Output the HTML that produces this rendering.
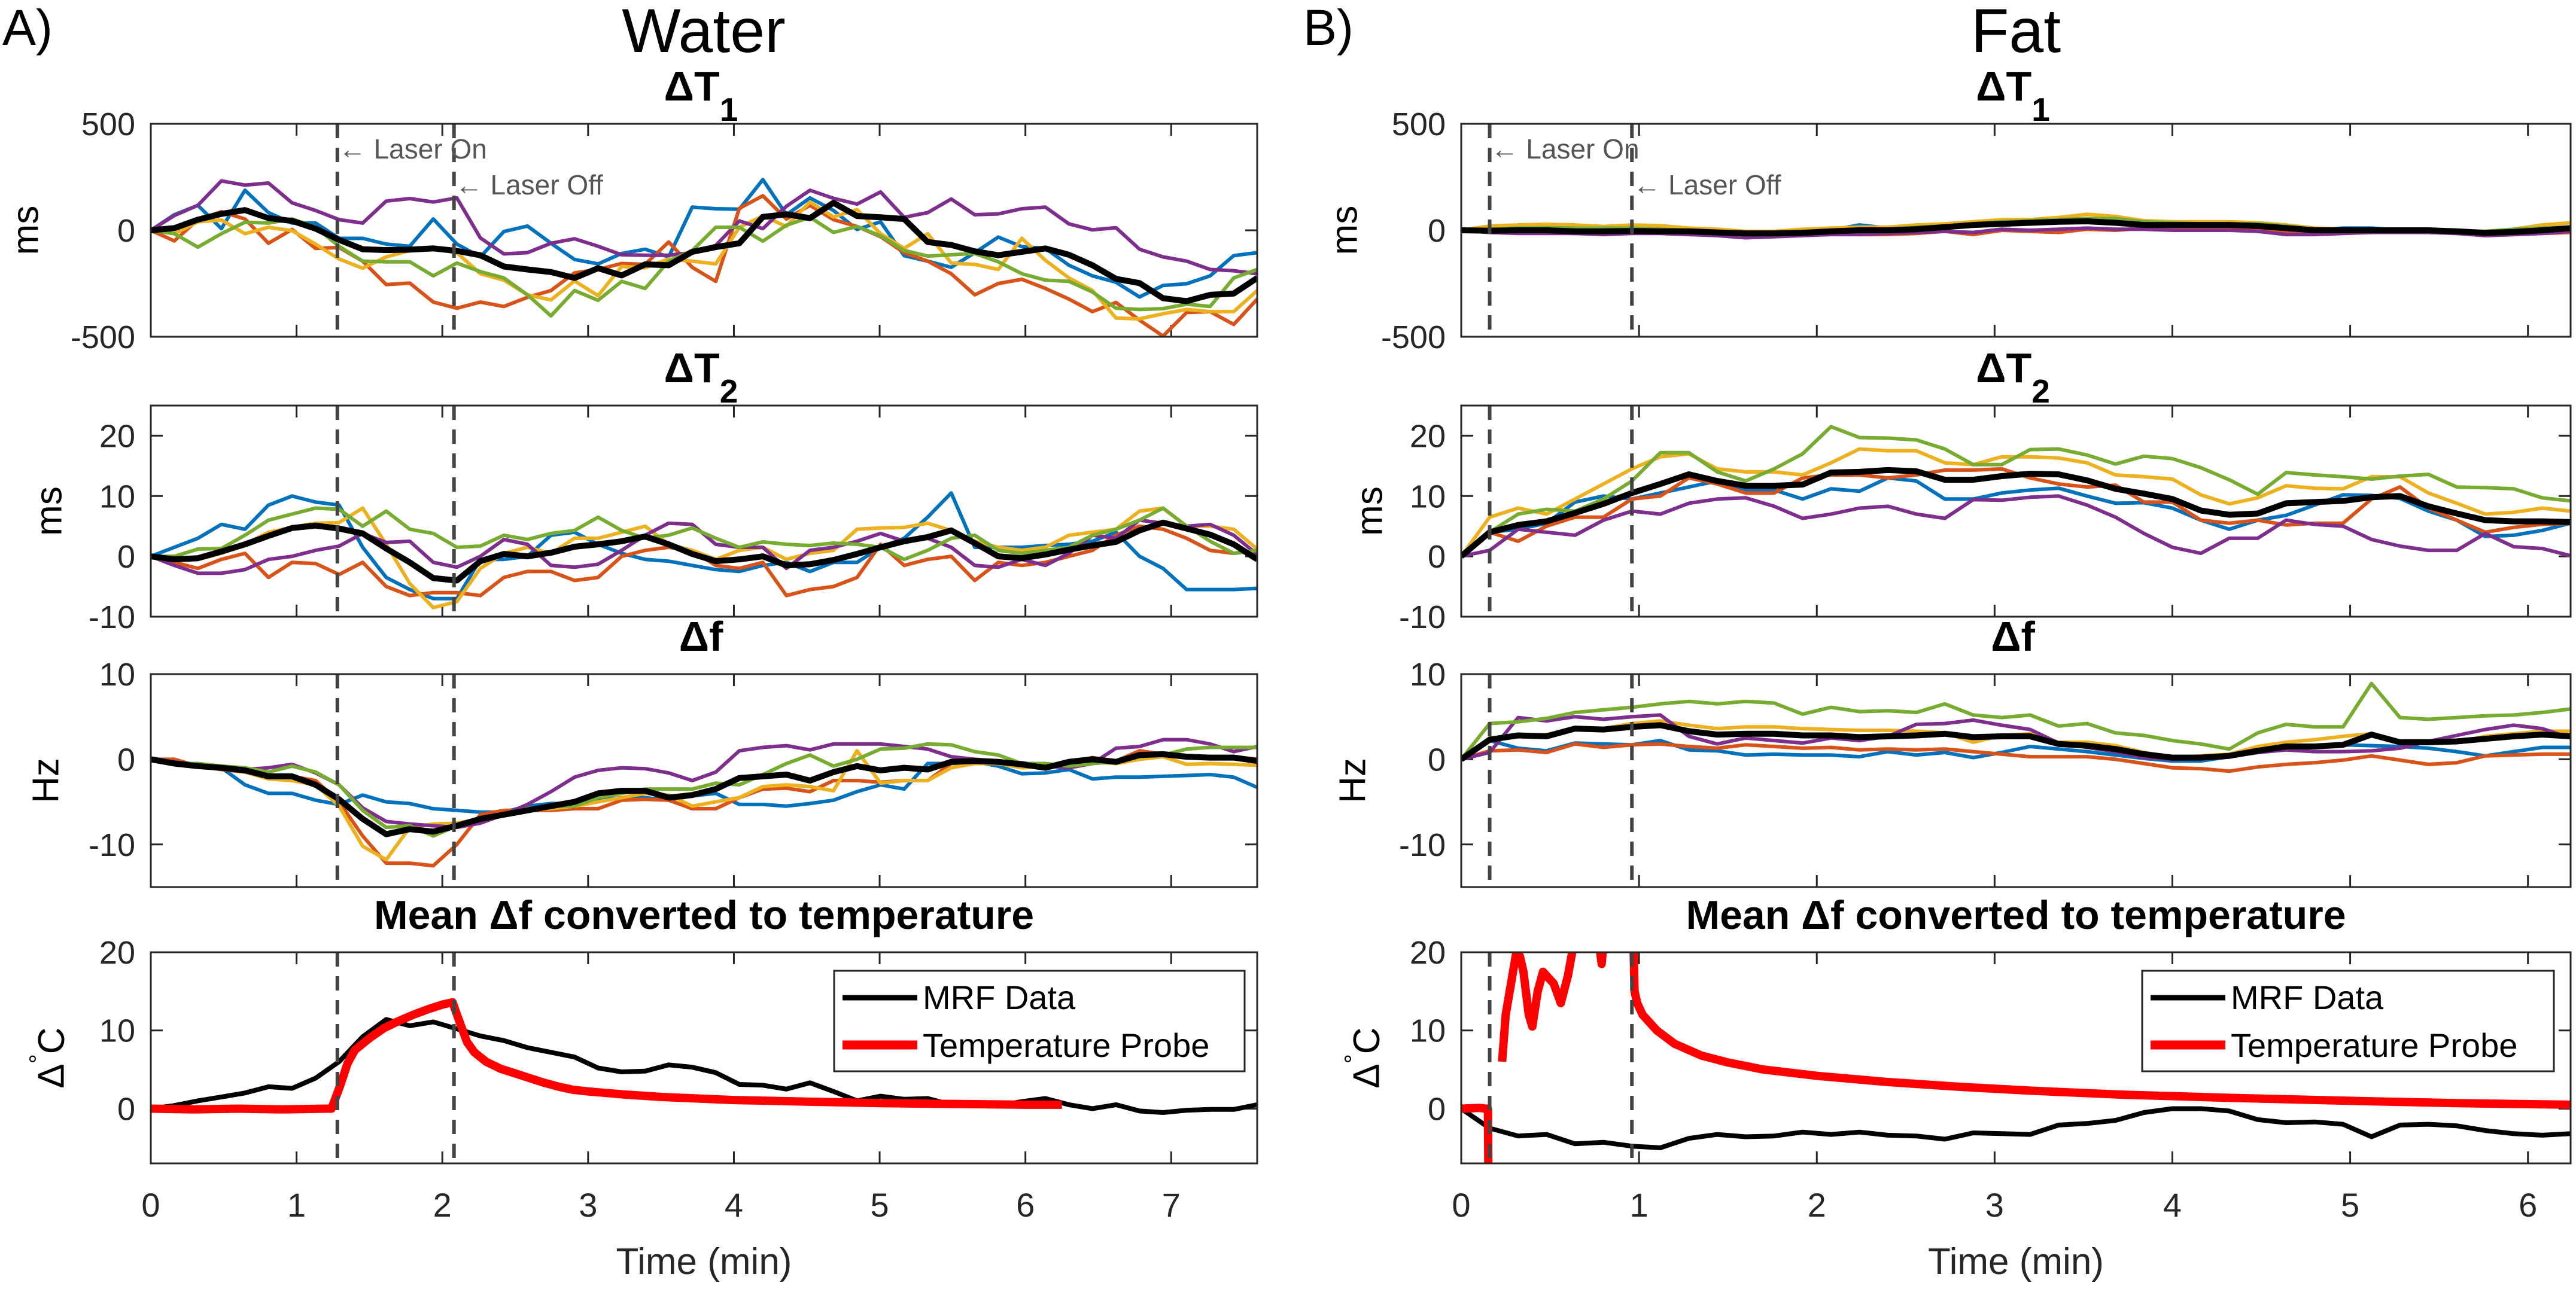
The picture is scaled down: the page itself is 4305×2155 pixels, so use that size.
<!DOCTYPE html>
<html><head><meta charset="utf-8">
<style>
html,body{margin:0;padding:0;background:#fff;}
svg{display:block;font-family:"Liberation Sans",Arial,sans-serif;}
</style></head>
<body>
<svg id="fig" width="4305" height="2155" viewBox="0 0 4305 2155" xmlns="http://www.w3.org/2000/svg">
<rect x="0" y="0" width="4305" height="2155" fill="#fff"/>
<text x="4" y="75" font-size="84">A)</text>
<text x="2178" y="75" font-size="84">B)</text>
<text x="1176" y="87" font-size="104" text-anchor="middle">Water</text>
<text x="3369" y="87" font-size="104" text-anchor="middle">Fat</text>
<g id="layer"></g>
</svg>
<script>
// ---------- DATA ----------
const seriesColors = ["#0072BD","#D95319","#EDB120","#7E2F8E","#77AC30"];
const seriesNames = ["blue","orange","yellow","purple","green"];
const dtWater = 0.1615;
const dtFat = 0.16;
const laserWater = [1.28, 2.08];
const laserFat = [0.16, 0.96];

// Water dT1 (ms)
const wT1Blue = [0,73,117,8,188,83,34,34,-38,-38,-65,-75,53,-65,-125,-6,20,-61,-137,-158,-109,-89,-125,109,101,99,238,73,152,93,4,40,-119,-145,-174,-105,-32,-77,-85,-164,-214,-244,-313,-259,-251,-214,-119,-105];
const wT1Orange = [0,-50,50,87,53,-61,4,-85,-81,-145,-255,-248,-337,-366,-337,-358,-315,-283,-200,-184,-156,-160,-55,-174,-240,103,162,53,117,50,18,-30,-105,-145,-204,-303,-250,-230,-273,-323,-382,-339,-422,-497,-386,-382,-442,-323];
const wT1Yellow = [0,-16,40,48,-16,14,-2,-65,-135,-178,-125,-95,-85,-105,-204,-234,-303,-327,-238,-307,-170,-176,-135,-145,-158,14,67,18,133,63,97,-16,-85,-16,-154,-160,-184,-38,-141,-224,-283,-412,-416,-392,-372,-382,-382,-283];
const wT1Purple = [0,69,117,232,212,222,129,93,50,34,137,149,133,152,-36,-111,-105,-61,-40,-75,-115,-117,-117,-105,-71,44,8,113,188,150,123,180,61,83,147,73,77,101,109,30,2,12,-89,-125,-145,-184,-190,-204];
const wT1Green = [0,-16,-79,-16,38,34,53,14,-75,-145,-148,-148,-214,-154,-194,-224,-303,-402,-283,-329,-240,-273,-145,-95,14,14,-51,24,61,-10,18,-26,-95,-121,-115,-109,-148,-204,-234,-240,-290,-366,-372,-368,-347,-358,-224,-184];
const wT1Mean = [0,10,50,77,95,57,44,8,-45,-89,-93,-91,-85,-97,-117,-170,-184,-196,-224,-178,-212,-160,-164,-101,-79,-61,63,75,57,129,67,61,53,-55,-69,-99,-117,-101,-85,-115,-164,-228,-248,-319,-333,-303,-297,-224];
// Water dT2 (ms)
const wT2Blue = [0,1.5,3,5.3,4.5,8.5,10,9,8.5,1.5,-3.5,-5.5,-7,-7,-0.5,-0.5,0,3.5,4,2,0.5,-0.5,-0.8,-1.5,-2.2,-2.5,-1.5,-1,-2.5,-1,-1,1.5,3,6.5,10.5,1.5,1.5,1.5,1.8,2,2.5,4,0,-2,-5.5,-5.5,-5.5,-5.3];
const wT2Orange = [0,-1,-2,-0.5,0.5,-3.5,-1,-1.2,-3,-1,-5,-6.5,-6,-6,-6.5,-3.5,-2.5,-2.5,-4,-3.5,0,1,1.5,1,-1.5,-2,-1,-6.5,-5.5,-5,-3.5,2,-1.5,-0.5,0,-4,-1,-1.5,-1,0,1,3.5,5,4.5,3,1,0.5,1];
const wT2Yellow = [0,-0.5,-0.5,0.5,2,4,4.8,5.5,5.6,8,2,-4.5,-8.5,-7.5,-2,0.5,1.5,0.5,3,3,4,5,2,1,-0.5,1,1.5,-0.5,0.5,1,4.5,4.7,4.8,5.5,4.3,2.5,1.5,1,1.5,3.5,4,4.5,7.5,8,5,5,4.5,1.2];
const wT2Purple = [0,-1.5,-2.8,-2.8,-2.2,-0.5,0,1,1.7,3.8,2.3,2.5,-1,-1.8,0,2.8,2,-1.5,-1.8,-1.3,1,3.5,5.5,5.3,2,1.5,1.5,-2,1,1.5,2.5,3.8,2.5,3,1.5,-1.5,-1.8,-0.5,-1.5,0.5,3.5,3,6,5.5,5,5.3,3.5,0.3];
const wT2Green = [0,0,1.2,1.3,3.5,6,7,8,7.8,5,7.5,4.5,3.8,1.5,1.7,3.5,2.8,3.8,4.3,6.5,4.3,3,3.5,4.7,3,1.5,2.4,2,1.8,2.2,2,1.5,-0.5,1,3,3.5,1,0.5,1,1.5,3.5,4.5,6,8,5,2.5,0.5,1];
const wT2Mean = [0,-0.5,-0.3,0.8,2,3.4,4.7,5.1,4.6,3.8,1.3,-1,-3.6,-4,-0.8,0.4,0,0.6,1.6,2,2.5,3.3,2,0.4,-0.8,-0.5,0,-1.5,-1.3,-0.6,0.4,1.5,2.5,3.2,4.3,2.2,0,-0.3,0.3,1.1,1.8,2.4,4.3,5.6,4.6,3.6,2,-0.5];
// Water df (Hz)
const wDfBlue = [0,-0.5,-0.8,-1,-3,-4,-4,-4.8,-5.3,-4.2,-5,-5.2,-5.8,-6,-6.2,-6.2,-5.5,-5.2,-5.2,-4.8,-4.5,-4.5,-4.8,-4.3,-4,-5.3,-5.3,-5.5,-5.2,-4.8,-3.8,-3,-3.5,-0.5,-0.5,-0.3,-0.8,-1.7,-1.6,-1.2,-2.3,-2.1,-2.1,-2,-1.9,-1.8,-2.1,-3.3];
const wDfOrange = [0,0,-0.8,-1.2,-1.5,-2,-2,-2.5,-5,-9,-12.2,-12.2,-12.5,-10,-6.5,-6,-6,-6,-5.8,-5.8,-4.8,-4.7,-4.8,-5.8,-5.8,-4.5,-3.5,-3.4,-3.8,-2.5,-2.5,-2.7,-2.5,-2.5,-0.5,-0.2,-0.3,-0.5,-0.8,-0.4,0.2,-0.2,1,0.6,0.2,0.3,0.3,0];
const wDfYellow = [0,-0.3,-0.6,-1,-1.5,-2.3,-2.5,-3,-5.5,-10.2,-11.8,-8,-7.6,-7.5,-7,-6.5,-6,-5.8,-5.5,-5,-4.5,-4,-4.2,-5.5,-5,-4.5,-3.2,-3,-3.2,-3.7,1,-2.8,-2.5,-2.5,-1,-0.5,-0.5,-1,-0.8,-0.5,-0.3,-0.5,0,0.3,-0.6,-0.5,-0.6,-0.7];
const wDfPurple = [0,-0.3,-0.6,-0.9,-1.2,-1,-0.6,-1.6,-3,-5.7,-7.3,-7.6,-7.8,-8,-7.5,-6.5,-5.3,-3.8,-2.1,-1.3,-1,-1.1,-1.6,-2.5,-1.5,1,1.4,1.6,1.1,1.8,1.8,1.8,1.5,1.2,0.3,0,-0.2,-0.4,-0.8,-1,-0.5,1.3,1.5,2.3,2.3,1.8,0.9,1.5];
const wDfGreen = [0,-0.5,-0.5,-0.8,-1,-1.5,-0.8,-1.5,-3,-6,-8,-7.8,-9,-7.8,-7,-6.5,-5.8,-5.5,-5.5,-4.5,-4,-3.5,-3.5,-3.5,-2.8,-3,-1.8,-0.5,0.5,-0.8,0,1.2,1.3,1.8,1.7,0.9,0.5,-0.5,-0.5,-0.8,-0.5,-0.3,0.3,0.5,1.2,1.4,1.4,1.4];
const wDfMean = [0,-0.5,-0.8,-1,-1.3,-2,-2,-3,-4.7,-7,-8.8,-8.2,-8.5,-7.8,-7,-6.5,-6,-5.5,-5,-4,-3.7,-3.7,-4.5,-4.2,-3.5,-2.2,-2,-1.8,-2.5,-1.5,-0.8,-1.3,-1,-1.2,-0.3,-0.2,-0.3,-0.6,-1,-0.3,0,-0.3,0.5,0.6,0.3,0.2,0.2,-0.2];
// Water temperature (deg C)
const wMRF = [0,0.4,1,1.5,2,2.8,2.6,3.9,6,9.2,11.4,10.6,11.1,10.2,9.3,8.7,7.8,7.2,6.6,5.2,4.7,4.8,5.6,5.3,4.6,3.1,3,2.5,3.3,2.2,1,1.6,1.2,1.3,0.5,0.5,0.4,0.9,1.3,0.5,0,0.5,-0.3,-0.5,-0.2,-0.1,-0.1,0.5];
const wProbeT = [0,0.3,0.6,0.9,1.2,1.24,1.3,1.35,1.4,1.5,1.6,1.7,1.8,1.9,2.0,2.07,2.12,2.17,2.22,2.3,2.4,2.5,2.6,2.7,2.8,2.9,3.0,3.25,3.5,3.75,4.0,4.5,5.0,5.5,6.0,6.25];
const wProbeV = [0,-0.1,0,-0.1,0,0,3,5.8,7.5,9,10.3,11.2,12,12.7,13.3,13.6,11,8.5,7.2,6,5.1,4.5,3.9,3.3,2.8,2.4,2.2,1.8,1.5,1.3,1.1,0.9,0.7,0.6,0.5,0.5];

// Fat dT1 (ms)
const fT1Blue = [0,-5,-5,-5,10,5,10,5,0,-5,-10,-10,-5,0,25,10,10,15,20,30,40,40,40,35,30,30,30,25,25,10,0,10,10,0,0,-5,-10,0,5,15];
const fT1Orange = [0,-10,-10,-10,-15,-10,-10,-10,-15,-20,-25,-25,-20,-15,-20,-20,-15,-5,-20,0,-5,-10,5,0,10,15,15,10,5,-5,-5,-10,-10,-5,-10,-15,-25,-20,-15,-10];
const fT1Yellow = [0,20,25,28,25,18,25,22,10,5,-5,-5,5,10,15,15,25,30,40,50,50,60,75,65,45,40,40,40,35,25,10,5,5,5,5,-5,-10,5,25,35];
const fT1Purple = [0,-10,-15,-15,-15,-20,-15,-15,-20,-25,-35,-30,-25,-20,-20,-15,-10,-5,-10,5,0,5,10,5,5,0,0,0,-5,-20,-20,-15,-10,-10,-10,-15,-25,-20,-15,-5];
const fT1Green = [0,5,10,12,10,10,10,5,0,-5,-10,-10,-5,0,5,5,15,20,30,40,45,50,55,55,40,35,30,30,30,20,5,5,5,5,0,-5,-5,5,10,15];
const fT1Mean = [0,-2,0,0,-5,-5,-3,-5,-5,-10,-15,-15,-12,-5,0,0,5,15,25,30,35,40,42,35,25,25,25,25,20,10,0,0,0,0,0,-5,-12,-8,0,10];
// Fat dT2 (ms)
const fT2Blue = [0,4,4.5,5.5,9,10,9.5,10.5,11.5,12.5,11,11,9.5,11.2,10.8,13,12.5,9.5,9.5,10.5,11,11.3,10,8.8,8.9,8,6,4.5,6,6.8,8.5,10.2,10.1,9.6,7.5,6,3.3,3.5,4.3,5.5];
const fT2Orange = [0,4,2.5,5,6.5,6.5,9.5,10,13,12,10.5,10.5,13,13.5,13.5,13,13.5,14.3,14.3,14.5,13,12,11.5,11.8,9,9,6,5.5,6,5.2,5.5,5.5,9.5,11.5,8,6,4,4.8,5.3,5.5];
const fT2Yellow = [0,6.5,8,7,9.5,12,14.5,16.5,17,14.5,14,14,13.5,15.5,17.8,17.5,17.5,15.5,15.2,16.5,16.5,16.3,15.5,13.5,13.2,12.8,10.2,8.7,9.7,11.7,11.3,11.2,13.2,13.2,10.5,8.8,7,7.3,8,7.5];
const fT2Purple = [0,1,4.5,4,3.5,6,7.5,7,8.8,9.5,9.7,8.3,6.3,7,8,8.3,7,6.3,9.4,9.3,9.8,10,8.5,6.5,3.8,1.5,0.5,3,3,6,5.3,5,2.8,1.7,1,1,3.8,1.6,1.3,0.1];
const fT2Green = [0,4,7,7.8,7.5,9.5,12.5,17.2,17.2,14,12.5,14.5,17,21.5,19.7,19.6,19.3,17.8,15.2,15.2,17.7,17.8,16.8,15.3,16.6,16.2,14.7,12.7,10.3,13.9,13.5,13.2,12.8,13.3,13.6,11.5,11.4,11.2,9.7,9.2];
const fT2Mean = [0,4,5.2,5.8,7.2,8.7,10.5,12,13.6,12.5,11.7,11.7,11.9,13.9,14,14.3,14.1,12.7,12.7,13.3,13.7,13.6,12.6,11.2,10.4,9.5,7.6,6.9,7.1,8.8,9,9.2,9.8,10,8.3,7.1,6,5.8,5.8,5.7];
// Fat df (Hz)
const fDfBlue = [0,2.2,1.3,1,1.9,1.8,1.7,2.2,1.1,1,0.5,0.6,0.5,0.5,0.3,0.9,0.5,0.8,0.2,0.8,1.5,1.2,0.9,0.5,0.1,-0.2,-0.2,0.3,0.8,1.2,1.6,1.7,1.6,1.5,1.3,0.9,0.4,0.9,1.4,1.4];
const fDfOrange = [0,1,1.1,0.8,1.8,1.4,1.7,1.8,1.5,1.3,1.7,1.5,1.3,1.4,1.1,1.2,1.1,1.2,0.9,0.6,0.3,0.3,0.3,0,-0.5,-1,-1.1,-1.4,-0.9,-0.6,-0.4,-0.1,0.4,-0.1,-0.6,-0.4,0.4,0.5,0.6,0.6];
const fDfYellow = [0,2.5,2.7,2.9,3.5,3.6,4.2,4.5,4,3.6,3.8,3.8,3.6,3.5,3.4,3.4,3.3,3.1,2,2.8,3,2,2,1.6,0.8,0.2,0.4,0.6,1.5,2,2.3,2.7,3,2,2.1,2,2.7,3,3.3,3.3];
const fDfPurple = [0,0.8,4.9,4.5,5,4.7,5,5.2,2.7,1.8,2.5,2.2,1.9,2.5,2.2,2.7,4.1,4.2,4.6,4,3.5,1.9,1.4,0.9,0.2,0,0.1,0.3,0.8,1.1,0.9,0.9,1,1.3,2.1,2.8,3.5,4,3.6,2.5];
const fDfGreen = [0,4.2,4.4,4.8,5.5,5.8,6.1,6.5,6.8,6.5,6.8,6.6,5.3,6.1,5.6,5.7,5.5,6.5,5.2,4.9,5.2,3.9,4.2,3.1,2.8,2.2,1.8,1.2,3.1,4.1,3.8,3.8,8.9,4.9,4.7,4.9,5.1,5.2,5.5,5.9];
const fDfMean = [0,2.3,2.8,2.7,3.6,3.5,3.8,4,3.3,2.9,3,3,2.8,2.8,2.6,2.7,2.8,3,2.6,2.7,2.7,1.8,1.6,1.2,0.6,0.2,0.2,0.4,1,1.5,1.5,1.7,2.9,2,2,2.1,2.4,2.7,2.9,2.7];
// Fat temperature (deg C)
const fMRF = [0,-2.5,-3.5,-3.3,-4.5,-4.3,-4.8,-5,-3.8,-3.3,-3.6,-3.5,-3,-3.3,-3,-3.4,-3.5,-3.9,-3.1,-3.2,-3.3,-2.1,-1.9,-1.5,-0.5,0,0,-0.3,-1.4,-1.8,-1.7,-2,-3.6,-2.1,-2,-2.2,-2.8,-3.2,-3.4,-3.2];
const fProbeT = [0,0.1,0.14,0.15,0.16,0.2,0.23,0.25,0.28,0.31,0.33,0.35,0.38,0.40,0.43,0.46,0.48,0.52,0.56,0.60,0.64,0.68,0.72,0.76,0.79,0.81,0.85,0.92,0.96,0.975,0.99,1.02,1.1,1.2,1.35,1.5,1.7,2.0,2.4,2.8,3.2,3.7,4.3,5.0,5.6,6.24];
const fProbeV = [0,0.1,0,0,-30,null,6,12,16,20,19.5,17.5,12,10.5,15,17.5,17,16,13.5,17,22,30,28,24,18.5,24,30,30,30,15,13.5,12,10,8.3,6.8,5.9,5,4.2,3.4,2.8,2.3,1.8,1.4,1.0,0.7,0.5];

const tickW = [0,1,2,3,4,5,6,7];
const tickF = [0,1,2,3,4,5,6];

// ---------- LAYOUT ----------
const NS = "http://www.w3.org/2000/svg";
const layer = document.getElementById("layer");
const tops = [207,678,1127,1592], bots = [563,1031,1483,1945];
const yRanges = [[-500,500],[-10,25],[-15,10],[-7,20]];
const yTicks = [[-500,0,500],[-10,0,10,20],[-10,0,10],[0,10,20]];
const sides = [
  {key:"water", x0:252, x1:2101, xmax:7.59, dt:dtWater, laser:laserWater, xt:tickW,
   series:[[wT1Blue,wT1Orange,wT1Yellow,wT1Purple,wT1Green,wT1Mean],[wT2Blue,wT2Orange,wT2Yellow,wT2Purple,wT2Green,wT2Mean],[wDfBlue,wDfOrange,wDfYellow,wDfPurple,wDfGreen,wDfMean]],
   mrf:wMRF, pT:wProbeT, pV:wProbeV, ylabX:[43,82,77,86], legX:1394, legW:686, annY:[249,309]},
  {key:"fat", x0:2442, x1:4296, xmax:6.24, dt:dtFat, laser:laserFat, xt:tickF,
   series:[[fT1Blue,fT1Orange,fT1Yellow,fT1Purple,fT1Green,fT1Mean],[fT2Blue,fT2Orange,fT2Yellow,fT2Purple,fT2Green,fT2Mean],[fDfBlue,fDfOrange,fDfYellow,fDfPurple,fDfGreen,fDfMean]],
   mrf:fMRF, pT:fProbeT, pV:fProbeV, ylabX:[2247,2289,2261,2284], legX:3580, legW:688, annY:[249,309]}
];
const subtitles = ["T1","T2","f","mean"];
const ylabels = ["ms","ms","Hz","C"];

function mk(tag, attrs, parent){
  const e = document.createElementNS(NS, tag);
  for (const k in attrs) e.setAttribute(k, attrs[k]);
  (parent||layer).appendChild(e);
  return e;
}
function polyPath(xs, ys, sx, sy){
  let d = "", pen = false;
  for (let i=0;i<ys.length;i++){
    if (ys[i]===null){ pen=false; continue; }
    d += (pen?"L":"M") + sx(xs[i]).toFixed(1) + "," + sy(ys[i]).toFixed(1);
    pen = true;
  }
  return d;
}

sides.forEach((S, si) => {
  const sx = v => S.x0 + (v/S.xmax)*(S.x1-S.x0);
  const cx = (S.x0+S.x1)/2;
  for (let p=0;p<4;p++){
    const top=tops[p], bot=bots[p], [ymin,ymax]=yRanges[p];
    const sy = v => bot - (v-ymin)/(ymax-ymin)*(bot-top);
    const g = mk("g",{});
    
    
    const clipId = "clip-"+S.key+"-"+p;
    const cp = mk("clipPath",{id:clipId}, g);
    mk("rect",{x:S.x0,y:top,width:S.x1-S.x0,height:bot-top}, cp);
    // title
    let tt;
    if (p<3){
      tt = mk("text",{x:cx-5,y:top-39,"font-size":70,"font-weight":"bold","text-anchor":"middle"}, g);
      if (p<2){
        tt.textContent = "\u0394T";
        const sub = mk("tspan",{"font-size":55,dy:34}, tt);
        sub.textContent = p===0 ? "1" : "2";
      } else tt.textContent = "\u0394f";
    } else {
      tt = mk("text",{x:cx,y:top-39,"font-size":68,"font-weight":"bold","text-anchor":"middle"}, g);
      tt.textContent = "Mean \u0394f converted to temperature";
    }
    
    
    // y label
    const ly = (top+bot)/2;
    const yl = mk("text",{x:S.ylabX[p],y:ly,"font-size":62,"text-anchor":"middle","dominant-baseline":"central",transform:"rotate(-90 "+S.ylabX[p]+" "+ly+")"}, g);
    if (p===3){ yl.textContent="\u0394"; const d=mk("tspan",{dy:-22,"font-size":40},yl); d.textContent="\u00B0"; const c=mk("tspan",{dy:22},yl); c.textContent="C"; }
    else yl.textContent = ylabels[p];
    
    
    // y ticks
    yTicks[p].forEach(v => {
      const y = sy(v);
      mk("line",{x1:S.x0,y1:y,x2:S.x0+20,y2:y,stroke:"#262626","stroke-width":3}, g);
      mk("line",{x1:S.x1,y1:y,x2:S.x1-20,y2:y,stroke:"#262626","stroke-width":3}, g);
      const t = mk("text",{x:S.x0-26,y:y+19,"font-size":54,"text-anchor":"end",fill:"#262626"}, g);
      t.textContent = String(v);
      
      
    });
    // x ticks
    S.xt.forEach(v => {
      const x = sx(v);
      mk("line",{x1:x,y1:bot,x2:x,y2:bot-20,stroke:"#262626","stroke-width":3}, g);
      mk("line",{x1:x,y1:top,x2:x,y2:top+20,stroke:"#262626","stroke-width":3}, g);
      if (p===3){
        const t = mk("text",{x:x,y:2034,"font-size":56,"text-anchor":"middle",fill:"#262626"}, g);
        t.textContent = String(v);
        
        
      }
    });
    const pg = mk("g",{"clip-path":"url(#"+clipId+")"}, g);
    // series
    if (p<3){
      const ser = S.series[p];
      for (let k=0;k<5;k++){
        const ys = ser[k], xs = ys.map((_,i)=>i*S.dt);
        const path = mk("path",{d:polyPath(xs,ys,sx,sy),fill:"none",stroke:seriesColors[k],"stroke-width":6,"stroke-linejoin":"round"}, pg);
        
        
      }
      const ys = ser[5], xs = ys.map((_,i)=>i*S.dt);
      const path = mk("path",{d:polyPath(xs,ys,sx,sy),fill:"none",stroke:"#000","stroke-width":10,"stroke-linejoin":"round"}, pg);
      
      
    } else {
      const xs = S.mrf.map((_,i)=>i*S.dt);
      const m = mk("path",{d:polyPath(xs,S.mrf,sx,sy),fill:"none",stroke:"#000","stroke-width":8,"stroke-linejoin":"round"}, pg);
      
      
      const r = mk("path",{d:polyPath(S.pT,S.pV,sx,sy),fill:"none",stroke:"#ff0000","stroke-width":14,"stroke-linejoin":"round"}, pg);
      
      
    }
    // laser lines
    S.laser.forEach((lt,li) => {
      const ln = mk("line",{x1:sx(lt),y1:top,x2:sx(lt),y2:bot,stroke:"#444","stroke-width":6,"stroke-dasharray":"24 16"}, g);
      
      
    });
    // box
    mk("rect",{x:S.x0,y:top,width:S.x1-S.x0,height:bot-top,fill:"none",stroke:"#262626","stroke-width":3}, g);
    if (p===0){
      ["\u2190 Laser On","\u2190 Laser Off"].forEach((txt,li) => {
        const a = mk("text",{x:sx(S.laser[li])+2,y:S.annY[li]+16,"font-size":46,fill:"#555"}, g);
        a.textContent = txt;
        
        
      });
    }
    if (p===3){
      const lg = mk("g",{}, g);
      
      
      mk("rect",{x:S.legX,y:1623,width:S.legW,height:168,fill:"#fff",stroke:"#262626","stroke-width":3}, lg);
      mk("line",{x1:S.legX+14,y1:1668,x2:S.legX+139,y2:1668,stroke:"#000","stroke-width":9}, lg);
      mk("line",{x1:S.legX+14,y1:1747,x2:S.legX+139,y2:1747,stroke:"#ff0000","stroke-width":15}, lg);
      const t1 = mk("text",{x:S.legX+148,y:1687,"font-size":56}, lg); t1.textContent="MRF Data";
      
      
      const t2 = mk("text",{x:S.legX+148,y:1767,"font-size":56}, lg); t2.textContent="Temperature Probe";
      
      
    }
  }
  const xl = mk("text",{x:cx,y:2130,"font-size":62,"text-anchor":"middle",fill:"#262626"});
  xl.textContent = "Time (min)";
  
  
});
</script>
</body></html>
